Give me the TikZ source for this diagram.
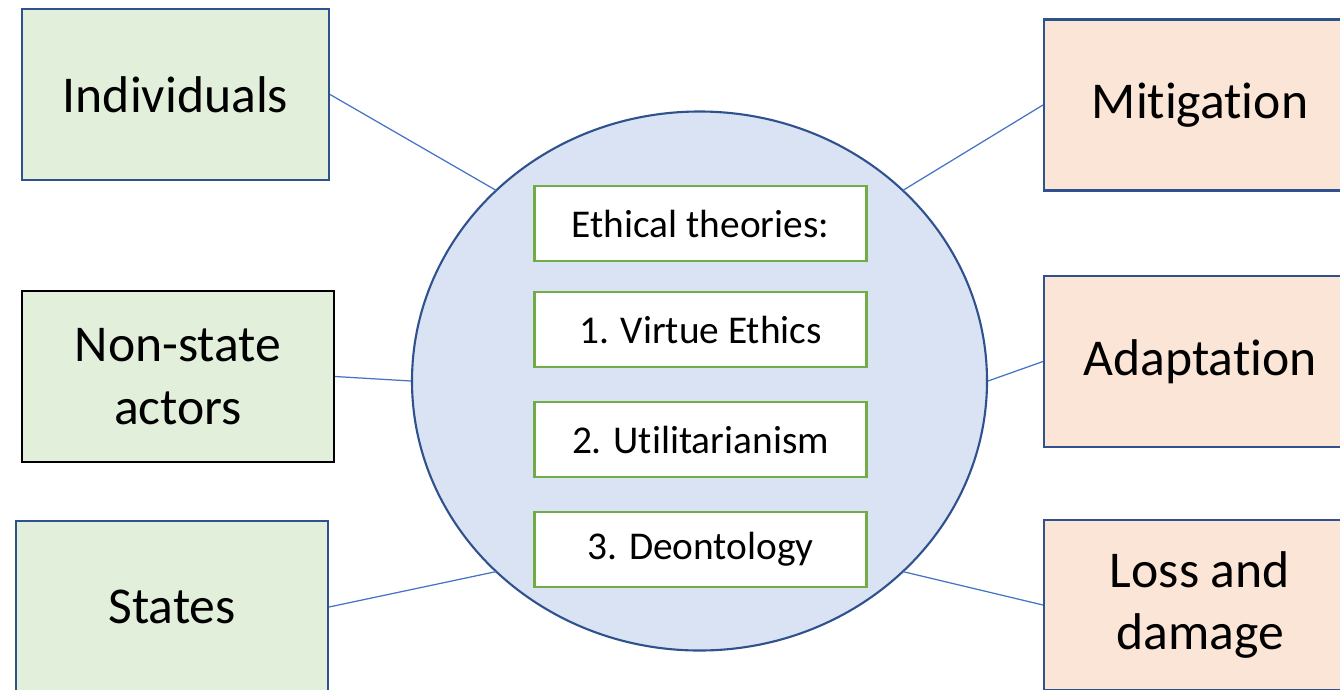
\documentclass[tikz,border=0pt]{standalone}
\usepackage{fontspec}
\setmainfont[Ligatures={NoCommon}]{Carlito}
\usepackage{tikz}
\usepackage{xcolor}
\usetikzlibrary{shapes.geometric}
\definecolor{actorfill}{HTML}{E2EFDA}
\definecolor{actionfill}{HTML}{FBE5D6}
\definecolor{theofill}{HTML}{DAE3F3}
\definecolor{boxline}{HTML}{2F528F}
\definecolor{linkline}{HTML}{4472C4}
\definecolor{theoline}{HTML}{70AD47}
\tikzset{bigbox/.style={draw=boxline, line width=0.6pt, minimum width=3.12cm,
   minimum height=1.71cm, inner sep=0pt, align=center,
   font=\fontsize{14.7}{17.9}\selectfont},
 actor/.style={bigbox, fill=actorfill},
 action/.style={bigbox, fill=actionfill},
 theory/.style={draw=theoline, fill=white, line width=0.6pt, minimum width=3.32cm,
   minimum height=0.75cm, inner sep=0pt, font=\fontsize{11.2}{13}\selectfont},
 link/.style={draw=linkline, line width=0.35pt},
 }

\begin{document}
\begin{tikzpicture}
        \clip (0, 0) rectangle (13.4, 6.89);
        \fill [white] (0, 0) rectangle (13.4, 6.89);
        % central ellipse
        \node [ellipse, draw=boxline, fill=theofill, line width=0.6pt, inner sep=0pt,
               minimum width=5.75cm, minimum height=5.39cm] (theo) at (6.995, 3.08) {};
        \path (theo.center) ++(135:2.875 and 2.695) coordinate (theonw);
        \path (theo.center) ++(45:2.875 and 2.695) coordinate (theone);
        \path (theo.center) ++(225:2.875 and 2.695) coordinate (theosw);
        \path (theo.center) ++(-45:2.875 and 2.695) coordinate (theose);
        % theories
        \node [theory] (head) at (7.005, 4.655) {Ethical theories:};
        \node [theory] (virtue) at (7.005, 3.595) {1. Virtue Ethics};
        \node [theory] (util) at (7.005, 2.495) {2. Utilitarianism};
        \node [theory] (deon) at (7.005, 1.395) {3. Deontology};
        % actors
        \node [actor, minimum width=3.07cm] (indiv) at (1.755, 5.945) {Individuals};
        \node [actor, draw=black] (nonstate) at (1.78, 3.125) {Non-state\\actors};
        \node [actor, minimum height=1.72cm] (states) at (1.72, 0.82) {States};
        % actions
        \node [action] (mitig) at (12.0, 5.84) {Mitigation};
        \node [action] (adapt) at (12.0, 3.275) {Adaptation};
        \node [action, minimum height=1.70cm] (loss) at (12.0, 0.84) {Loss and\\damage};
        % links
        \draw [link] (indiv.east) -- (theonw);
        \draw [link] (nonstate.east) -- (theo.west);
        \draw [link] (states.east) -- (theosw);
        \draw [link] (mitig.west) -- (theone);
        \draw [link] (adapt.west) -- (theo.east);
        \draw [link] (loss.west) -- (theose);
    \end{tikzpicture}
\end{document}
